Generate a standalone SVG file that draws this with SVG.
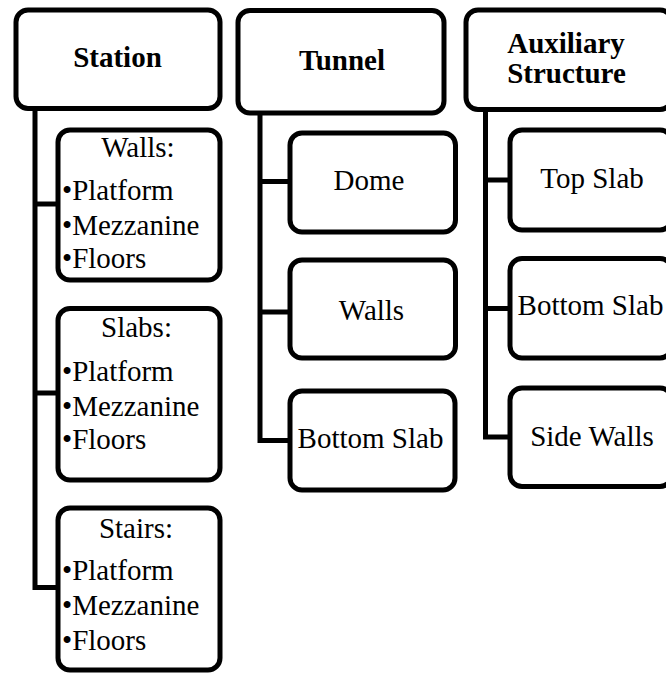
<svg xmlns="http://www.w3.org/2000/svg" width="666" height="675" viewBox="0 0 666 675">
<style>
.box{fill:#ffffff;stroke:#000000;stroke-width:5}
.ln{fill:none;stroke:#000000;stroke-width:5;stroke-linejoin:miter}
.c{text-anchor:middle}
</style>
<rect width="666" height="675" fill="#ffffff"/>
<g id="connectors">
<path class="ln" d="M35,110 V587.5 H58"/>
<path class="ln" d="M35,204 H58"/>
<path class="ln" d="M35,393 H58"/>
<path class="ln" d="M260,113 V440.5 H290"/>
<path class="ln" d="M260,181.5 H290"/>
<path class="ln" d="M260,312 H290"/>
<path class="ln" d="M485.5,109 V437 H510"/>
<path class="ln" d="M485.5,180 H510"/>
<path class="ln" d="M485.5,308.5 H510"/>
</g>
<g id="station" font-family="Liberation Serif" font-size="29" font-weight="bold">
<rect class="box" x="16" y="10" width="204" height="98.5" rx="12"/>
<text class="c" x="117.5" y="67">Station</text>
</g>
<g id="tunnel" font-family="Liberation Serif" font-size="29" font-weight="bold">
<rect class="box" x="238" y="10.5" width="206" height="102.5" rx="12"/>
<text class="c" x="342" y="70">Tunnel</text>
</g>
<g id="auxiliary" font-family="Liberation Serif" font-size="29" font-weight="bold">
<rect class="box" x="466" y="10" width="206" height="99.5" rx="12"/>
<text class="c" x="566" y="53">Auxiliary</text>
<text class="c" x="566.5" y="83">Structure</text>
</g>
<g id="station-walls" font-family="Liberation Serif" font-size="29">
<rect class="box" x="58" y="130" width="162" height="150" rx="12"/>
<text class="c" x="138" y="157">Walls:</text>
<text x="62" y="200">•Platform</text>
<text x="62" y="235">•Mezzanine</text>
<text x="62" y="268">•Floors</text>
</g>
<g id="station-slabs" font-family="Liberation Serif" font-size="29">
<rect class="box" x="58" y="308.5" width="162" height="171.5" rx="12"/>
<text class="c" x="136.5" y="337">Slabs:</text>
<text x="62" y="381">•Platform</text>
<text x="62" y="416">•Mezzanine</text>
<text x="62" y="449">•Floors</text>
</g>
<g id="station-stairs" font-family="Liberation Serif" font-size="29">
<rect class="box" x="58" y="508" width="162" height="162" rx="12"/>
<text class="c" x="136" y="538">Stairs:</text>
<text x="62" y="580">•Platform</text>
<text x="62" y="615">•Mezzanine</text>
<text x="62" y="650">•Floors</text>
</g>
<g id="tunnel-dome" font-family="Liberation Serif" font-size="29">
<rect class="box" x="290" y="133" width="165.5" height="99" rx="12"/>
<text class="c" x="369" y="190">Dome</text>
</g>
<g id="tunnel-walls" font-family="Liberation Serif" font-size="29">
<rect class="box" x="290" y="260" width="165.5" height="98" rx="12"/>
<text class="c" x="371.5" y="320">Walls</text>
</g>
<g id="tunnel-bottom-slab" font-family="Liberation Serif" font-size="29">
<rect class="box" x="290" y="391" width="165" height="99" rx="12"/>
<text class="c" x="370.5" y="448">Bottom Slab</text>
</g>
<g id="aux-top-slab" font-family="Liberation Serif" font-size="29">
<rect class="box" x="510" y="130" width="162" height="100" rx="12"/>
<text class="c" x="592" y="188">Top Slab</text>
</g>
<g id="aux-bottom-slab" font-family="Liberation Serif" font-size="29">
<rect class="box" x="510" y="258.5" width="162" height="99.5" rx="12"/>
<text class="c" x="590.5" y="315">Bottom Slab</text>
</g>
<g id="aux-side-walls" font-family="Liberation Serif" font-size="29">
<rect class="box" x="510" y="388" width="162" height="98.5" rx="12"/>
<text class="c" x="592" y="446">Side Walls</text>
</g>
</svg>
